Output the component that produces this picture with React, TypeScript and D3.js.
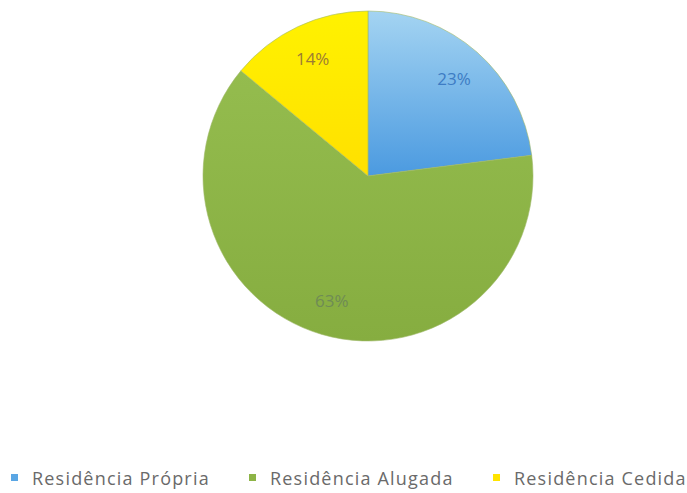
import React from "react";
import { pie, arc, PieArcDatum } from "d3";

const categories = ["Residência Própria", "Residência Alugada", "Residência Cedida"];
const values = [23, 63, 14];
const labels = ["23%", "63%", "14%"];

const fills = ["url(#gBlue)", "url(#gGreen)", "url(#gYellow)"];
const swatch = ["#5aa6e4", "#8db446", "#ffe400"];
const labelColors = ["#3d7cc4", "#6f8b55", "#9c7c34"];

const legendX = [11, 249, 493];

const App: React.FC = () => {
  const width = 687;
  const height = 493;
  const cx = 368;
  const cy = 176;
  const radius = 165;

  const pieGen = pie<number>().sort(null).value((d) => d);
  const arcs = pieGen(values);
  const arcGen = arc<PieArcDatum<number>>().innerRadius(0).outerRadius(radius);
  const labelArc = arc<PieArcDatum<number>>().innerRadius(130).outerRadius(130);

  return (
    <svg width={width} height={height} style={{ position: "absolute", left: 0, top: 0, background: "#fff" }}>
      <defs>
        <linearGradient id="gBlue" x1="0" y1="0" x2="0" y2="1">
          <stop offset="0%" stopColor="#a4d4f2" />
          <stop offset="100%" stopColor="#4b9ae0" />
        </linearGradient>
        <linearGradient id="gGreen" x1="0" y1="0" x2="0" y2="1">
          <stop offset="0%" stopColor="#94bc4e" />
          <stop offset="100%" stopColor="#86ad40" />
        </linearGradient>
        <linearGradient id="gYellow" x1="0" y1="0" x2="0" y2="1">
          <stop offset="0%" stopColor="#fff200" />
          <stop offset="100%" stopColor="#ffe000" />
        </linearGradient>
      </defs>
      <g transform={`translate(${cx},${cy})`}>
        {arcs.map((a, i) => (
          <path key={i} d={arcGen(a) || ""} fill={fills[i]} stroke="#9fb86a" strokeWidth={0.6} />
        ))}
        {arcs.map((a, i) => {
          const [x, y] = labelArc.centroid(a);
          return (
            <text
              key={"l" + i}
              x={x}
              y={y}
              textAnchor="middle"
              dominantBaseline="central"
              fontFamily="'Open Sans', sans-serif"
              fontSize={17}
              fill={labelColors[i]}
            >
              {labels[i]}
            </text>
          );
        })}
      </g>
      {categories.map((c, i) => (
        <g key={c} transform={`translate(${legendX[i]},0)`}>
          <rect x={0} y={474} width={7} height={7} fill={swatch[i]} />
          <text
            x={21}
            y={485}
            fontFamily="'Open Sans', sans-serif"
            fontSize={18}
            letterSpacing={1.2}
            fill="#6a6a6a"
          >
            {c}
          </text>
        </g>
      ))}
    </svg>
  );
};

export default App;
